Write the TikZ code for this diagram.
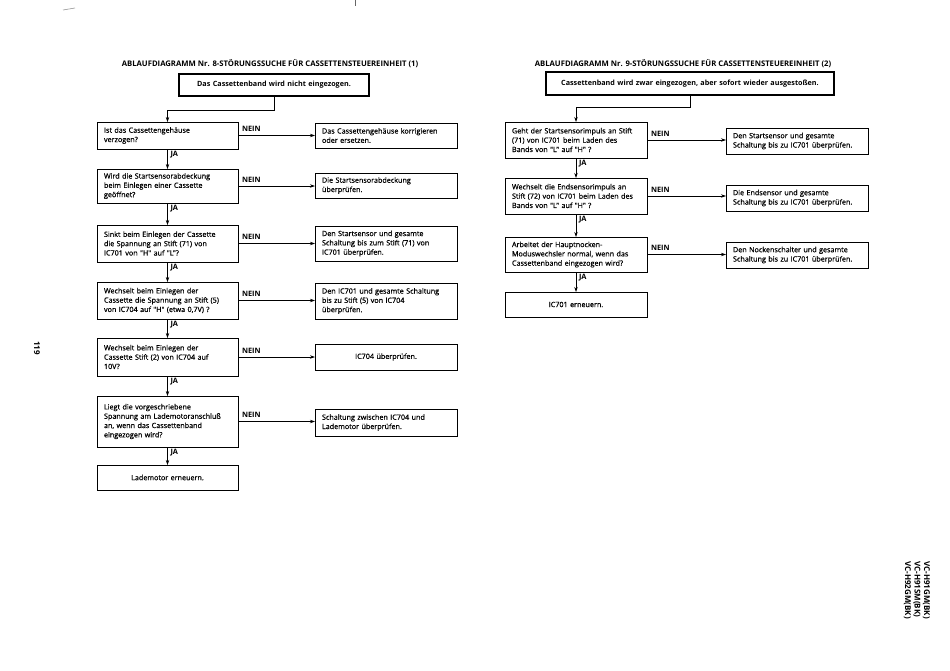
\documentclass[tikz,border=0pt]{standalone}
\usepackage{fontspec}
\setmainfont{Open Sans}
\newfontfamily\bodyfont{Open Sans}[FakeBold=0.6]
\usetikzlibrary{arrows.meta,calc}
\newcommand{\mkbox}[7][]{%
  \pgfmathsetmacro{\mybw}{#5-#3}\pgfmathsetmacro{\mybh}{#6-#4}\pgfmathsetmacro{\mytw}{#5-#3-14}%
  \node[#1, anchor=north west, minimum width=\mybw pt, minimum height=\mybh pt, text width=\mytw pt] (#2) at (#3,#4) {#7};}
\begin{document}
\begin{tikzpicture}[x=1pt,y=-1pt,
  every node/.style={inner sep=0pt, outer sep=0pt},
  box/.style={draw, line width=0.8pt, inner xsep=7pt, align=left, font=\bodyfont\fontsize{7.2}{9.3}\selectfont},
  cbox/.style={box, align=center},
  startbox/.style={draw, line width=1.7pt, inner xsep=7pt, align=center, font=\bfseries\fontsize{7.2}{8}\selectfont},
  lab/.style={font=\bfseries\fontsize{7.4}{8}\selectfont},
  ttl/.style={font=\bfseries\fontsize{7.7}{9}\selectfont},
  arr/.style={line width=0.8pt, -{Stealth[length=5pt,width=3.4pt]}},
  side/.style={rotate=-90, font=\bfseries\fontsize{8}{9.5}\selectfont, align=left}
]
\useasboundingbox (0,0) rectangle (950,670);
\fill[white] (0,0) rectangle (950,670);
% scan marks
\draw[line width=0.6pt, black!60] (355,0) -- (355,6);
\draw[line width=0.6pt, black!40] (63,10) -- (75,8);

% ---------- left chart ----------
\node[ttl] (t1) at (270,64) {ABLAUFDIAGRAMM Nr. 8-STÖRUNGSSUCHE FÜR CASSETTENSTEUEREINHEIT (1)};
\mkbox[startbox]{s1}{179}{74}{369}{96}{Das Cassettenband wird nicht eingezogen.}
\mkbox[box]{b1}{97}{122}{238}{149}{Ist das Cassettengehäuse\\verzogen?}
\mkbox[box]{a1}{315}{123}{457}{148}{Das Cassettengehäuse korrigieren\\oder ersetzen.}
\mkbox[box]{b2}{97}{169}{238}{203}{Wird die Startsensorabdeckung\\beim Einlegen einer Cassette\\geöffnet?}
\mkbox[box]{a2}{315}{173}{457}{198}{Die Startsensorabdeckung\\überprüfen.}
\mkbox[box]{b3}{97}{225}{238}{262}{Sinkt beim Einlegen der Cassette\\die Spannung an Stift (71) von\\IC701 von "H" auf "L"?}
\mkbox[box]{a3}{315}{226}{457}{261}{Den Startsensor und gesamte\\Schaltung bis zum Stift (71) von\\IC701 überprüfen.}
\mkbox[box]{b4}{97}{282}{238}{319}{Wechselt beim Einlegen der\\Cassette die Spannung an Stift (5)\\von IC704 auf "H" (etwa 0,7V) ?}
\mkbox[box]{a4}{315}{283}{457}{319}{Den IC701 und gesamte Schaltung\\bis zu Stift (5) von IC704\\überprüfen.}
\mkbox[box]{b5}{97}{338}{238}{376}{Wechselt beim Einlegen der\\Cassette Stift (2) von IC704 auf\\10V?}
\mkbox[cbox]{a5}{315}{344}{457}{370}{IC704 überprüfen.}
\mkbox[box]{b6}{97}{396}{238}{447}{Liegt die vorgeschriebene\\Spannung am Lademotoranschluß\\an, wenn das Cassettenband\\eingezogen wird?}
\mkbox[box]{a6}{315}{409}{457}{436}{Schaltung zwischen IC704 und\\Lademotor überprüfen.}
\mkbox[cbox]{b7}{97}{465}{238}{490}{Lademotor erneuern.}

\draw[arr] (s1.south) -- ++(0,14) -| (b1.north);
\foreach \u/\v in {b1/b2,b2/b3,b3/b4,b4/b5,b5/b6,b6/b7}{
  \draw[arr] (\u.south) -- (\v.north);
  \node[lab, anchor=north west] (ja-\u) at ($(\u.south)+(3,2)$) {JA};
}
\foreach \u/\v in {b1/a1,b2/a2,b3/a3,b4/a4,b5/a5,b6/a6}{
  \draw[arr] (\u.east) -- (\u.east -| \v.west);
  \node[lab, anchor=south west] (nein-\u) at ($(\u.east)+(4,-4)$) {NEIN};
}

% ---------- right chart ----------
\node[ttl] (t2) at (683,64) {ABLAUFDIAGRAMM Nr. 9-STÖRUNGSSUCHE FÜR CASSETTENSTEUEREINHEIT (2)};
\mkbox[startbox]{s2}{546}{72}{834}{95}{Cassettenband wird zwar eingezogen, aber sofort wieder ausgestoßen.}
\mkbox[box]{r1}{505}{122}{647}{158}{Geht der Startsensorimpuls an Stift\\(71) von IC701 beim Laden des\\Bands von "L" auf "H" ?}
\mkbox[box]{ra1}{726}{128}{868}{154}{Den Startsensor und gesamte\\Schaltung bis zu IC701 überprüfen.}
\mkbox[box]{r2}{505}{178}{647}{214}{Wechselt die Endsensorimpuls an\\Stift (72) von IC701 beim Laden des\\Bands von "L" auf "H" ?}
\mkbox[box]{ra2}{726}{185}{868}{211}{Die Endsensor und gesamte\\Schaltung bis zu IC701 überprüfen.}
\mkbox[box]{r3}{505}{237}{647}{272}{Arbeitet der Hauptnocken-\\Moduswechsler normal, wenn das\\Cassettenband eingezogen wird?}
\mkbox[box]{ra3}{726}{242}{868}{268}{Den Nockenschalter und gesamte\\Schaltung bis zu IC701 überprüfen.}
\mkbox[cbox]{r4}{505}{292}{647}{317}{IC701 erneuern.}

\draw[arr] (s2.south) -- ++(0,12) -| (r1.north);
\foreach \u/\v in {r1/r2,r2/r3,r3/r4}{
  \draw[arr] (\u.south) -- (\v.north);
  \node[lab, anchor=north west] (ja-\u) at ($(\u.south)+(3,2)$) {JA};
}
\foreach \u/\v in {r1/ra1,r2/ra2,r3/ra3}{
  \draw[arr] (\u.east) -- (\u.east -| \v.west);
  \node[lab, anchor=south west] (nein-\u) at ($(\u.east)+(4,-4)$) {NEIN};
}

% ---------- side texts ----------
\node[side] (pg) at (37,348) {119};
\node[side] (models) at (917,590) {VC-H91GM(BK)\\VC-H91SM(BK)\\VC-H92GM(BK)};
\end{tikzpicture}
\end{document}
